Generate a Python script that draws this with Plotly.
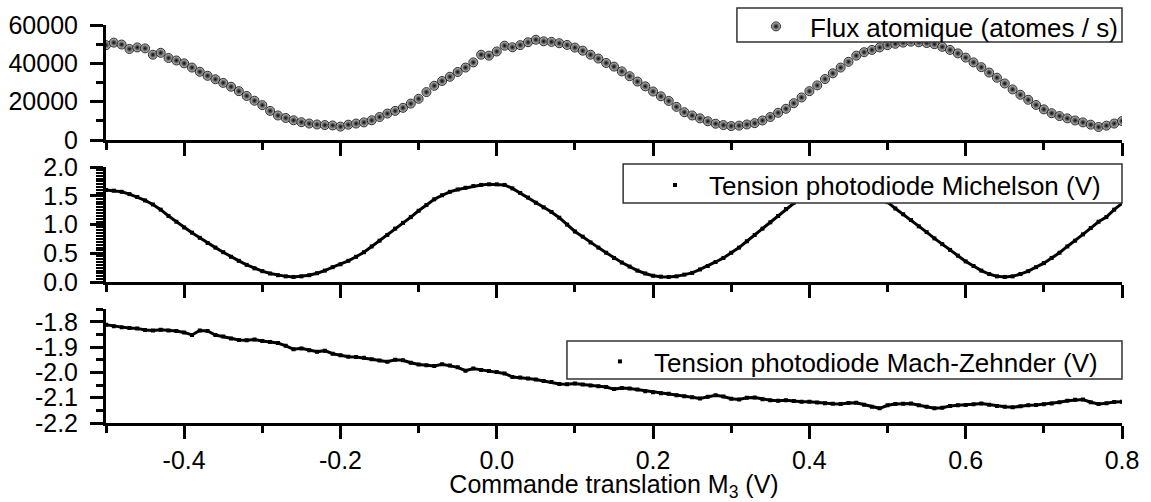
import numpy as np
import plotly.graph_objects as go
from plotly.subplots import make_subplots

# commande translation M3 (V), pas de 0.01 V
x_cmd = np.round(np.arange(-0.50, 0.805, 0.01), 2)

flux = [49500, 50800, 49800, 47500, 48300, 47800, 44500, 45500, 42800, 41500,
        40000, 37800, 35600, 33500, 31700, 29800, 27800, 25500, 23000, 20500,
        18200, 15200, 12800, 11500, 10300, 9300, 8600, 8100, 7800, 7600,
        7000, 8000, 8600, 9200, 10300, 12000, 13800, 15200, 16800, 19000,
        21500, 25000, 28300, 30800, 33000, 35500, 37800, 40500, 44500, 44000,
        46200, 49200, 48400, 49500, 51000, 52300, 51500, 51200, 50500, 49600,
        48200, 46600, 44500, 42500, 40200, 38300, 35800, 33300, 30500, 28000,
        25300, 22800, 20400, 17300, 14500, 12800, 11300, 9800, 8500, 7800,
        7300, 7500, 8100, 8800, 10200, 12000, 14200, 16300, 19200, 22200,
        25500, 28500, 31800, 34800, 37800, 40800, 44000, 45800, 47000, 48300,
        49500, 50200, 50800, 51300, 51000, 50600, 50000, 48600, 47000, 45200,
        43000, 40500, 38000, 35200, 32500, 29500, 26400, 23600, 21000, 18300,
        16000, 14000, 12500, 11300, 10200, 9200, 8000, 6800, 7500, 8600,
        9900]

michelson = [1.60, 1.59, 1.57, 1.53, 1.48, 1.42, 1.35, 1.26, 1.15, 1.05,
             0.95, 0.86, 0.77, 0.68, 0.60, 0.52, 0.44, 0.37, 0.30, 0.24,
             0.19, 0.15, 0.12, 0.10, 0.09, 0.10, 0.12, 0.155, 0.20, 0.26,
             0.31, 0.37, 0.44, 0.52, 0.62, 0.72, 0.82, 0.93, 1.03, 1.13,
             1.24, 1.34, 1.44, 1.51, 1.57, 1.61, 1.64, 1.67, 1.69, 1.70,
             1.70, 1.69, 1.63, 1.55, 1.47, 1.38, 1.30, 1.22, 1.12, 1.00,
             0.88, 0.79, 0.69, 0.60, 0.51, 0.42, 0.34, 0.27, 0.20, 0.15,
             0.11, 0.095, 0.09, 0.10, 0.13, 0.16, 0.22, 0.28, 0.35, 0.42,
             0.51, 0.60, 0.71, 0.82, 0.93, 1.04, 1.15, 1.27, 1.38, 1.48,
             1.57, 1.63, 1.68, 1.70, 1.70, 1.68, 1.64, 1.59, 1.52, 1.46,
             1.39, 1.28, 1.18, 1.08, 0.97, 0.87, 0.76, 0.66, 0.56, 0.46,
             0.36, 0.28, 0.20, 0.14, 0.10, 0.09, 0.10, 0.14, 0.19, 0.26,
             0.33, 0.42, 0.51, 0.62, 0.72, 0.83, 0.94, 1.05, 1.13, 1.26,
             1.37]

mach_zehnder = [-1.812, -1.818, -1.821, -1.824, -1.826, -1.832, -1.834, -1.831, -1.834, -1.836,
                -1.842, -1.852, -1.834, -1.836, -1.852, -1.858, -1.866, -1.872, -1.873, -1.870,
                -1.876, -1.880, -1.884, -1.895, -1.908, -1.905, -1.912, -1.918, -1.914, -1.926,
                -1.932, -1.938, -1.939, -1.942, -1.948, -1.953, -1.958, -1.950, -1.952, -1.962,
                -1.969, -1.972, -1.975, -1.968, -1.973, -1.980, -1.993, -1.985, -1.990, -1.994,
                -1.998, -2.004, -2.018, -2.020, -2.024, -2.028, -2.034, -2.038, -2.046, -2.047,
                -2.044, -2.048, -2.052, -2.055, -2.058, -2.066, -2.062, -2.064, -2.068, -2.074,
                -2.078, -2.082, -2.084, -2.090, -2.094, -2.098, -2.103, -2.096, -2.090, -2.095,
                -2.104, -2.107, -2.100, -2.099, -2.106, -2.110, -2.112, -2.110, -2.113, -2.116,
                -2.116, -2.119, -2.122, -2.124, -2.125, -2.121, -2.120, -2.128, -2.136, -2.142,
                -2.130, -2.125, -2.124, -2.123, -2.130, -2.136, -2.142, -2.140, -2.133, -2.130,
                -2.129, -2.126, -2.123, -2.128, -2.133, -2.136, -2.138, -2.134, -2.130, -2.129,
                -2.126, -2.123, -2.118, -2.112, -2.108, -2.107, -2.118, -2.125, -2.122, -2.117,
                -2.116]

x_tickvals = [-0.4, -0.2, 0.0, 0.2, 0.4, 0.6, 0.8]
x_ticktext = ['-0.4', '-0.2', '0.0', '0.2', '0.4', '0.6', '0.8']
y1_tickvals = [0, 20000, 40000, 60000]
y2_tickvals = [0.0, 0.5, 1.0, 1.5, 2.0]
y2_ticktext = ['0.0', '0.5', '1.0', '1.5', '2.0']
y3_tickvals = [-2.2, -2.1, -2.0, -1.9, -1.8]
y3_ticktext = ['-2.2', '-2.1', '-2.0', '-1.9', '-1.8']

FONT = dict(family='Liberation Sans, Arial, sans-serif', size=25, color='black')
LEG_FONT = dict(family='Liberation Sans, Arial, sans-serif', size=26, color='black')

fig = make_subplots(rows=3, cols=1)

fig.add_trace(go.Scatter(x=x_cmd, y=flux, mode='markers', name='Flux atomique (atomes / s)',
                         marker=dict(size=9, color='#d0d0d0', gradient=dict(type='radial', color='#000000'),
                                     line=dict(color='black', width=0.8)),
                         legend='legend'), row=1, col=1)

fig.add_trace(go.Scatter(x=x_cmd, y=michelson, mode='lines', line=dict(color='black', width=3),
                         showlegend=False), row=2, col=1)
fig.add_trace(go.Scatter(x=x_cmd, y=michelson, mode='markers', name='Tension photodiode Michelson (V)',
                         marker=dict(size=4, symbol='square', color='black'),
                         legend='legend2'), row=2, col=1)

fig.add_trace(go.Scatter(x=x_cmd, y=mach_zehnder, mode='lines', line=dict(color='black', width=3),
                         showlegend=False), row=3, col=1)
fig.add_trace(go.Scatter(x=x_cmd, y=mach_zehnder, mode='markers', name='Tension photodiode Mach-Zehnder (V)',
                         marker=dict(size=4, symbol='square', color='black'),
                         legend='legend3'), row=3, col=1)

axis_common = dict(showline=True, linecolor='black', linewidth=3, ticks='outside', ticklen=13,
                   tickwidth=2.5, tickcolor='black', showgrid=False, zeroline=False,
                   tickfont=FONT, automargin=False)

for i in (1, 2, 3):
    fig.update_xaxes(axis_common, range=[-0.5, 0.8], tickmode='array', tickvals=x_tickvals,
                     ticktext=x_ticktext, showticklabels=(i == 3),
                     minor=dict(dtick=0.1, tick0=-0.5, ticklen=7, tickwidth=2.5, tickcolor='black', ticks='outside'),
                     row=i, col=1)

fig.update_yaxes(axis_common, range=[0, 60000], tickmode='array', tickvals=y1_tickvals,
                 ticktext=[str(v) for v in y1_tickvals], ticklabelstandoff=7,
                 minor=dict(dtick=10000, tick0=0, ticklen=7, tickwidth=2.5, tickcolor='black', ticks='outside'),
                 row=1, col=1)
fig.update_yaxes(axis_common, range=[0, 2], tickmode='array', tickvals=y2_tickvals,
                 ticktext=y2_ticktext, ticklabelstandoff=7,
                 minor=dict(dtick=0.05, tick0=0, ticklen=7, tickwidth=1.5, tickcolor='black', ticks='outside'),
                 row=2, col=1)
fig.update_yaxes(axis_common, range=[-2.2, -1.75], tickmode='array', tickvals=y3_tickvals,
                 ticktext=y3_ticktext, ticklabelstandoff=7,
                 minor=dict(dtick=0.05, tick0=-2.2, ticklen=7, tickwidth=2.5, tickcolor='black', ticks='outside'),
                 row=3, col=1)

fig.update_xaxes(title=dict(text='Commande translation M<sub>3</sub> (V)', font=FONT, standoff=2), row=3, col=1)

# cadres des légendes (blancs, bordés), les légendes transparentes sont posées dessus
for x0, y0, y1 in [(0.621, 0.957, 1.0427), (0.509, 0.5528, 0.6508), (0.4537, 0.1106, 0.206)]:
    fig.add_shape(type='rect', xref='paper', yref='paper', x0=x0, x1=1.0, y0=y0, y1=y1,
                  fillcolor='white', line=dict(color='#333333', width=1.5), layer='above')

legend_common = dict(xref='paper', yref='paper', xanchor='left', yanchor='top',
                     bgcolor='rgba(0,0,0,0)', borderwidth=0, font=LEG_FONT, itemwidth=58)

fig.update_layout(
    width=1151, height=502,
    margin=dict(l=106, r=29, t=25, b=79, autoexpand=False),
    paper_bgcolor='white', plot_bgcolor='white',
    font=FONT,
    yaxis=dict(domain=[0.711, 1.0]),
    yaxis2=dict(domain=[0.354, 0.643]),
    yaxis3=dict(domain=[0.0, 0.286]),
    legend=dict(legend_common, x=0.626, y=1.0553),
    legend2=dict(legend_common, x=0.5266, y=0.657),
    legend3=dict(legend_common, x=0.4724, y=0.2136),
)

fig.write_html("out.html", config={'displayModeBar': False},
               post_script="document.body.style.margin='0';")
